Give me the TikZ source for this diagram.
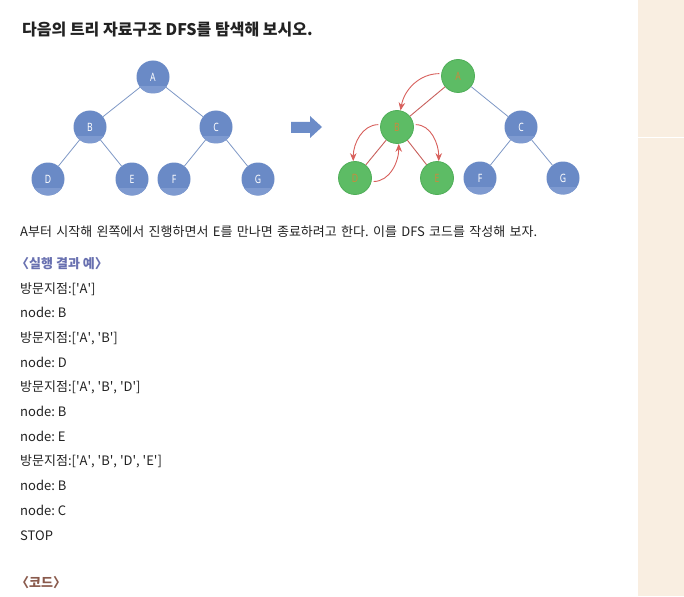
\documentclass[tikz,border=0pt]{standalone}
\usepackage{fontspec}
\setmainfont{Noto Sans CJK KR}
\newfontfamily\labfont[FakeStretch=0.75]{Noto Sans}
\usetikzlibrary{arrows.meta}
\frenchspacing
\newcommand\sq{\textquotesingle}
\definecolor{nodeblue}{HTML}{6A8AC6}
\definecolor{nodebluelight}{HTML}{7E9AD0}
\definecolor{edgeblue}{HTML}{7E98C6}
\definecolor{nodegreen}{HTML}{5DBC65}
\definecolor{greenrim}{HTML}{4FAE58}
\definecolor{labelorange}{HTML}{C98A3E}
\definecolor{edgered}{HTML}{C8605C}
\definecolor{arrowred}{HTML}{D8605C}
\definecolor{txt}{HTML}{222222}
\definecolor{subhead}{HTML}{6870B0}
\definecolor{codebrown}{HTML}{8A5A4C}
\definecolor{beige}{HTML}{F9EEE1}
\definecolor{bigarrow}{HTML}{6C8CC8}
\tikzset{
  bnode/.style={circle, fill=nodeblue, minimum size=33pt, inner sep=0pt,
    text=white, font=\labfont\fontsize{11.5}{11.5}\selectfont,
    path picture={\fill[nodebluelight] ([yshift=7.5pt]path picture bounding box.south west) rectangle (path picture bounding box.south east);}},
  gnode/.style={circle, fill=nodegreen, draw=greenrim, line width=0.8pt, minimum size=33pt, inner sep=0pt,
    text=labelorange, font=\labfont\fontsize{11.5}{11.5}\selectfont},
  tedge/.style={draw=edgeblue, line width=0.8pt},
  redge/.style={draw=edgered, line width=0.9pt},
  rarrow/.style={draw=arrowred, line width=0.9pt, -{Stealth[length=8pt,width=6.5pt]}, shorten <=2pt},
  body/.style={anchor=base west, inner sep=0pt, text=txt, font=\fontsize{13}{13}\selectfont},
}
\begin{document}
\begin{tikzpicture}[x=1pt,y=-1pt]
\useasboundingbox (0,0) rectangle (684,596);
\fill[white] (0,0) rectangle (684,596);
\fill[beige] (638,0) rectangle (684,596);
\draw[white, line width=0.6pt] (638,137) -- (684,137);

% title
\node[anchor=base west, inner sep=0pt, text=txt, font=\fontsize{16}{16}\selectfont\bfseries] (title) at (22,36) {다음의 트리 자료구조 DFS를 탐색해 보시오.};

% left tree
\node[bnode] (A) at (153,77) {A};
\node[bnode] (B) at (90,127) {B};
\node[bnode] (C) at (216,127) {C};
\node[bnode] (D) at (48,179) {D};
\node[bnode] (E) at (132,179) {E};
\node[bnode] (F) at (174,179) {F};
\node[bnode] (G) at (258,179) {G};
\draw[tedge] (A) -- (B);
\draw[tedge] (A) -- (C);
\draw[tedge] (B) -- (D);
\draw[tedge] (B) -- (E);
\draw[tedge] (C) -- (F);
\draw[tedge] (C) -- (G);

% block arrow
\fill[bigarrow] (291,122) -- (310,122) -- (310,116) -- (322,127) -- (310,138) -- (310,133) -- (291,133) -- cycle;

% right tree
\node[gnode] (rA) at (458,76) {A};
\node[gnode] (rB) at (397,127) {B};
\node[bnode] (rC) at (521,127) {C};
\node[gnode] (rD) at (355,178) {D};
\node[gnode] (rE) at (437,178) {E};
\node[bnode] (rF) at (480,178) {F};
\node[bnode] (rG) at (563,178) {G};
\draw[redge] (rA) -- (rB);
\draw[redge] (rB) -- (rD);
\draw[redge] (rB) -- (rE);
\draw[tedge] (rA) -- (rC);
\draw[tedge] (rC) -- (rF);
\draw[tedge] (rC) -- (rG);

% traversal arrows
\draw[rarrow] (rA.172) to[out=180, in=80] (rB.78);
\draw[rarrow] (rB.172) to[out=180, in=90] (rD.96);
\draw[rarrow] (rB.8) to[out=0, in=90] (rE.84);
\draw[rarrow] (rD.-12) to[out=0, in=-90] (rB.-84);

% text
\node[body] (p1) at (20,236) {\makebox[517pt][s]{A부터 시작해 왼쪽에서 진행하면서 E를 만나면 종료하려고 한다. 이를 DFS 코드를 작성해 보자.}};
\node[body, text=subhead, font=\fontsize{13}{13}\selectfont\bfseries] (h1) at (16,268) {〈실행 결과 예〉};
\node[body] (l1) at (20,293) {방문지점:[\sq A\sq]};
\node[body] (l2) at (20,317.7) {node: B};
\node[body] (l3) at (20,342.4) {방문지점:[\sq A\sq, \sq B\sq]};
\node[body] (l4) at (20,367.1) {node: D};
\node[body] (l5) at (20,391.8) {방문지점:[\sq A\sq, \sq B\sq, \sq D\sq]};
\node[body] (l6) at (20,416.5) {node: B};
\node[body] (l7) at (20,441.2) {node: E};
\node[body] (l8) at (20,465.9) {방문지점:[\sq A\sq, \sq B\sq, \sq D\sq, \sq E\sq]};
\node[body] (l9) at (20,490.6) {node: B};
\node[body] (l10) at (20,515.3) {node: C};
\node[body] (l11) at (20,540) {STOP};
\node[body, text=codebrown, font=\fontsize{13}{13}\selectfont\bfseries] (h2) at (16,587) {〈코드〉};
\end{tikzpicture}
\end{document}
